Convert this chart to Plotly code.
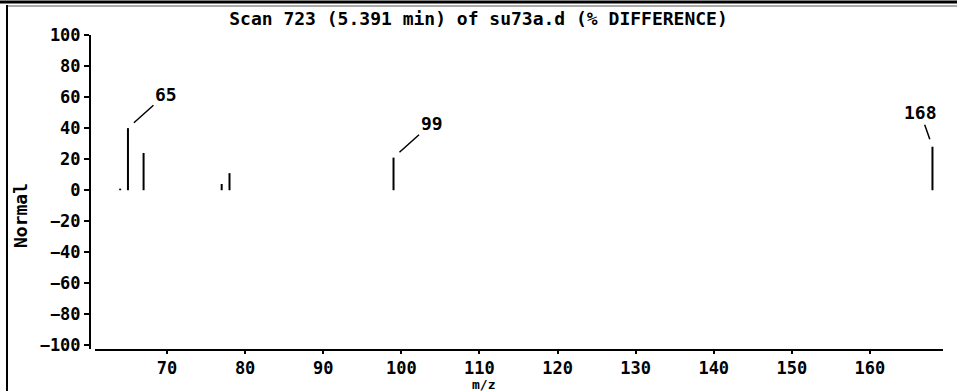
import plotly.graph_objects as go

# ---- data ----
mz = [64, 65, 67, 77, 78, 99, 168]
abundance = [1, 40, 24, 4, 11, 21, 28]
labelled_mz = [65, 99, 168]
label_text = ["65", "99", "168"]
label_dx = [38, 38, -12]      # label offsets (px) from peak top
label_dy = [-34, -34, -34]

x_ticks = [70, 80, 90, 100, 110, 120, 130, 140, 150, 160]
y_ticks = [100, 80, 60, 40, 20, 0, -20, -40, -60, -80, -100]

title_text = "Scan 723 (5.391 min) of su73a.d (% DIFFERENCE)"
FONT = "DejaVu Sans Mono"
FS = 18
BOLD = dict(family=FONT, size=FS, color="black", weight="bold")

# stick spectrum built from the data lists
xs, ys = [], []
for m, a in zip(mz, abundance):
    xs += [m, m, None]
    ys += [0, a, None]

fig = go.Figure()
fig.add_trace(go.Scatter(x=xs, y=ys, mode="lines",
                         line=dict(color="black", width=2),
                         hoverinfo="skip", showlegend=False))

ab = dict(zip(mz, abundance))
for m, t, dx, dy in zip(labelled_mz, label_text, label_dx, label_dy):
    fig.add_annotation(x=m, y=ab[m], text=t, showarrow=True,
                       arrowhead=0, arrowwidth=1.5, arrowcolor="black",
                       ax=dx, ay=dy, standoff=8, font=BOLD)

W, H = 957, 391
L, R, T, B = 95, 14, 35, 42
pw, ph = W - L - R, H - T - B

def px(x):
    return (x - L) / pw

def py(y):
    return (H - B - y) / ph

fig.update_layout(
    width=W, height=H,
    margin=dict(l=L, r=R, t=T, b=B),
    paper_bgcolor="white", plot_bgcolor="white",
    font=BOLD,
    title=dict(text=title_text, x=0.5, xref="container", xanchor="center",
               y=1 - 19 / H, yref="container", yanchor="middle", font=BOLD),
    xaxis=dict(range=[60.78, 169.35], tickvals=x_ticks,
               showline=True, linecolor="black", linewidth=2,
               ticks="outside", ticklen=3, tickwidth=2, tickcolor="black",
               tickfont=dict(family=FONT, size=17, color="black", weight="bold"),
               showgrid=False, zeroline=False, fixedrange=True),
    yaxis=dict(range=[-102.3, 100], tickvals=y_ticks,
               anchor="free", position=0, shift=-5,
               showline=True, linecolor="black", linewidth=2,
               ticks="outside", ticklen=5, tickwidth=2, tickcolor="black",
               tickfont=dict(family=FONT, size=17, color="black", weight="bold"),
               showgrid=False, zeroline=False, fixedrange=True),
    showlegend=False,
)

# axis titles as annotations
fig.add_annotation(text="Normal", xref="paper", yref="paper",
                   x=px(20), y=py(216), textangle=-90, showarrow=False,
                   xanchor="center", yanchor="middle", font=BOLD)
fig.add_annotation(text="m/z", xref="paper", yref="paper",
                   x=px(483), y=py(393), showarrow=False,
                   xanchor="center", yanchor="bottom", borderpad=0,
                   font=dict(family=FONT, size=13, color="black", weight="bold"))

# window frame decoration
fig.add_shape(type="line", xref="paper", yref="paper",
              x0=px(0), x1=px(W), y0=py(2), y1=py(2),
              line=dict(color="black", width=3))
fig.add_shape(type="line", xref="paper", yref="paper",
              x0=px(6), x1=px(W), y0=py(6), y1=py(6),
              line=dict(color="#555555", width=1))
fig.add_shape(type="line", xref="paper", yref="paper",
              x0=px(7), x1=px(7), y0=py(5), y1=py(H),
              line=dict(color="black", width=2))

fig.write_html("out.html")
